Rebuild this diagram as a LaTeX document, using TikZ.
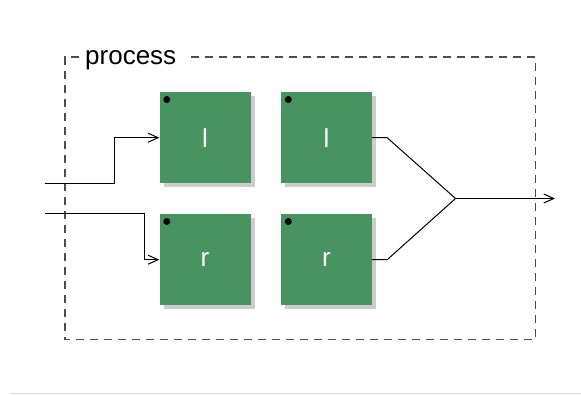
\documentclass[tikz,border=0pt]{standalone}
\usepackage{fontspec}
\setmainfont{Liberation Sans}
\usetikzlibrary{arrows.meta,shadows}
\definecolor{blockgreen}{RGB}{72,148,96}
\definecolor{shadowgrey}{RGB}{204,204,204}
\definecolor{ruleGrey}{RGB}{222,222,222}
\tikzset{
  block/.style={fill=blockgreen, minimum width=91pt, minimum height=91pt,
    inner sep=0pt, text=white, font=\fontsize{26}{30}\selectfont,
    general shadow={fill=shadowgrey, shadow xshift=4pt, shadow yshift=-4pt}},
  wire/.style={line width=1pt, black},
  arr/.style={wire, -{Straight Barb[length=10pt,width=9pt,line width=1pt]}},
  groupline/.style={line width=1.1pt, black!70, dash pattern=on 8pt off 6pt},
  pin/.style={circle, fill=black, inner sep=0pt, minimum size=7pt}
}
\begin{document}
\begin{tikzpicture}[x=1pt,y=-1pt]
  \useasboundingbox (0,0) rectangle (581,394);

  % group frame with its title
  \draw[groupline] (191,57) -- (535.3,57) -- (535.3,339.5) -- (65,339.5) -- (65,57) -- (83,57);
  \node[anchor=base west, inner sep=0pt, font=\fontsize{26}{30}\selectfont] (title) at (85,64) {process};

  % blocks
  \node[block] (tl) at (205,137.7) {l};
  \node[block] (tr) at (326.5,137.7) {l};
  \node[block] (bl) at (205,259.7) {r};
  \node[block] (br) at (326.5,259.7) {r};
  \foreach \b in {tl,tr,bl,br}
    \node[pin] (\b-pin) at ([xshift=7.5pt,yshift=-7.5pt]\b.north west) {};

  % inputs
  \coordinate (in1) at (45,183.3);
  \coordinate (in2) at (45,213.7);
  \draw[arr] (in1) -- (114,183.3) |- (tl.west);
  \draw[arr] (in2) -- (144.3,213.7) |- (bl.west);

  % merge of the outputs
  \coordinate (join) at (455.5,198.5);
  \coordinate (out) at (555,198.5);
  \draw[wire] (tr.east) -- ++(15,0) -- (join);
  \draw[wire] (br.east) -- ++(15,0) -- (join);
  \draw[arr] (join) -- (out);

  % bottom rule
  \draw[ruleGrey, line width=1pt] (10,393) -- (581,393);
\end{tikzpicture}
\end{document}
